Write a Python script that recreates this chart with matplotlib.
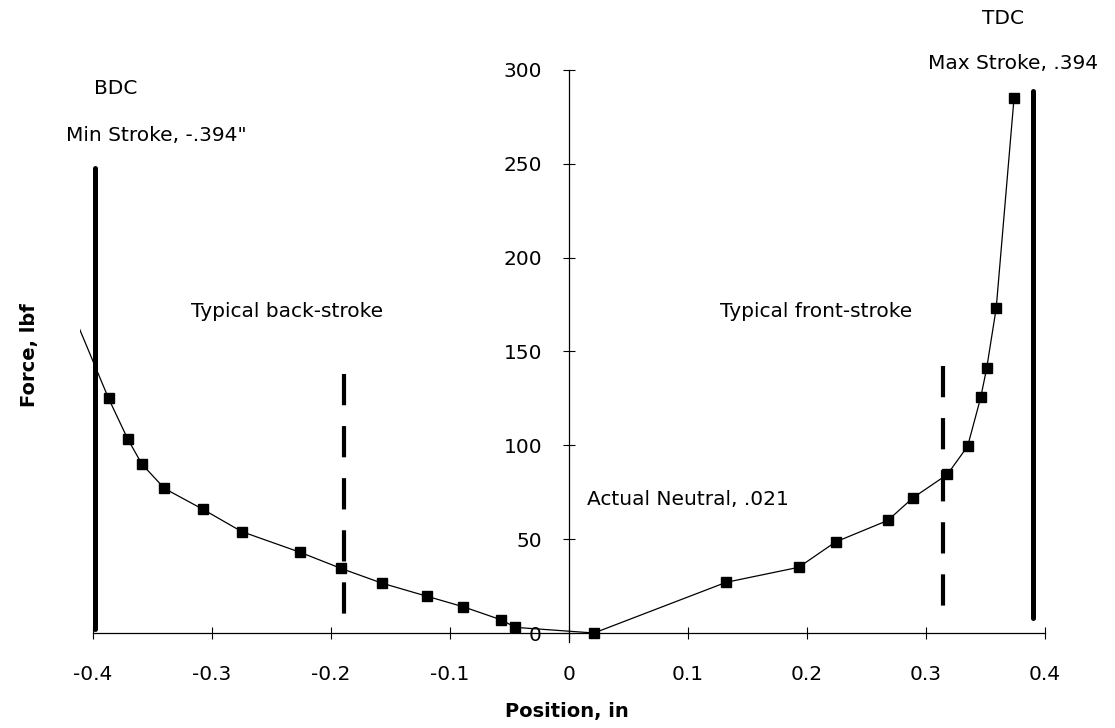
"""
plot.py  —  force vs. stroke position, BDC/TDC limits and typical strokes
"""

import matplotlib
matplotlib.use("Agg")
import matplotlib.pyplot as plt

# ── Data ──────────────────────────────────────────────────────────────────────

position_in = [-0.420, -0.387, -0.371, -0.359, -0.340, -0.308, -0.275, -0.226,
               -0.192, -0.157, -0.119, -0.089, -0.057, -0.045, 0.021,
               0.132, 0.193, 0.224, 0.268, 0.289, 0.318, 0.335, 0.346,
               0.351, 0.359, 0.374]
force_lbf   = [175.0, 125.0, 103.5, 90.0, 77.0, 66.0, 54.0, 43.0,
               34.5, 26.5, 19.5, 14.0, 7.0, 3.0, 0.0,
               27.0, 35.0, 48.5, 60.0, 72.0, 84.5, 99.5, 125.5,
               141.0, 173.0, 285.0]

# stroke limits (solid) and typical strokes (dashed): x, y-start, y-end
bdc_line   = (-0.398, 2.0, 248.0)
tdc_line   = (0.390, 8.0, 289.0)
back_line  = (-0.189, 6.0, 138.0)
front_line = (0.314, 9.5, 142.5)

x_ticks  = [-0.4, -0.3, -0.2, -0.1, 0.0, 0.1, 0.2, 0.3, 0.4]
x_labels = ["-0.4", "-0.3", "-0.2", "-0.1", "0", "0.1", "0.2", "0.3", "0.4"]
y_ticks  = [0, 50, 100, 150, 200, 250, 300]

notes = [
    ("BDC",                   -0.381, 290.0),
    ("Min Stroke, -.394\"",   -0.347, 265.0),
    ("TDC",                    0.365, 327.5),
    ("Max Stroke, .394",       0.373, 303.5),
    ("Typical back-stroke",   -0.237, 171.5),
    ("Typical front-stroke",   0.208, 171.5),
    ("Actual Neutral, .021",   0.100, 71.0),
]

# ── Style ─────────────────────────────────────────────────────────────────────

plt.rcParams["font.family"] = ["DejaVu Sans"]
plt.rcParams["axes.unicode_minus"] = False

fig = plt.figure(figsize=(11.15, 7.28), dpi=100)
ax  = fig.add_axes([0.07175, 0.10471, 0.9188, 0.85084])

# ── Series ────────────────────────────────────────────────────────────────────

ax.plot(position_in, force_lbf, color="black", linewidth=0.9,
        marker="s", markersize=7.5, markerfacecolor="black",
        markeredgecolor="black", zorder=3)

for x, y0, y1 in (bdc_line, tdc_line):
    ax.plot([x, x], [y0, y1], color="black", linewidth=3.6,
            solid_capstyle="round", zorder=2)

for x, y0, y1 in (back_line, front_line):
    ax.plot([x, x], [y1, y0], color="black", linewidth=3.0,
            dashes=(7.5, 5.0), dash_capstyle="butt", zorder=2)

for text, x, y in notes:
    ax.text(x, y, text, ha="center", va="center", fontsize=14.5)

# ── Axes: spines crossing at the origin ───────────────────────────────────────

ax.set_xlim(-0.411, 0.45)
ax.set_ylim(-10, 320)

for side in ("top", "right"):
    ax.spines[side].set_visible(False)
ax.spines["left"].set_position(("data", 0))
ax.spines["bottom"].set_position(("data", 0))
ax.spines["left"].set_bounds(-5, 300)
ax.spines["bottom"].set_bounds(-0.4, 0.4)
ax.spines["left"].set_linewidth(0.9)
ax.spines["bottom"].set_linewidth(0.9)

ax.set_xticks(x_ticks)
ax.set_xticklabels(x_labels)
ax.set_yticks(y_ticks)
ax.tick_params(axis="x", direction="inout", length=8, width=0.8,
               pad=19, labelsize=14.5)
ax.tick_params(axis="y", direction="inout", length=9, width=0.8,
               pad=15, labelsize=14.5)

fig.text(567 / 1115, 1 - 712 / 728, "Position, in", ha="center",
         va="center", fontsize=14, fontweight="bold")
fig.text(29 / 1115, 1 - 355 / 728, "Force, lbf", ha="center",
         va="center", rotation=90, fontsize=14, fontweight="bold")

fig.savefig("out.png", dpi=100)
plt.close(fig)
